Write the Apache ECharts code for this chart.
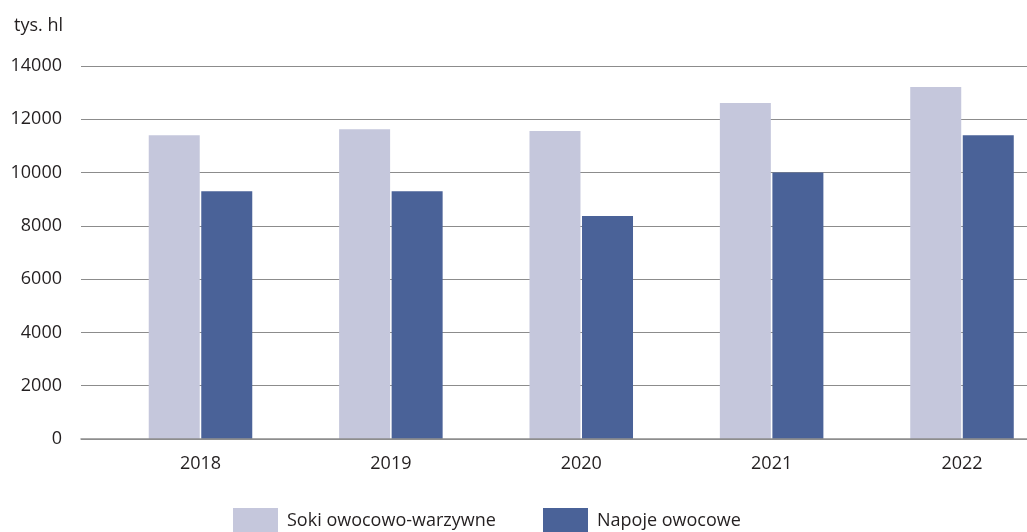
<!DOCTYPE html>
<html><head><meta charset="utf-8">
<script src="https://cdn.jsdelivr.net/npm/echarts@6/dist/echarts.min.js"></script>
<style>html,body{margin:0;padding:0;background:#fff}#c{width:1027px;height:532px}</style>
</head><body><div id="c"></div>
<script>
const categories = ['2018', '2019', '2020', '2021', '2022'];
const sokiValues = [11400, 11630, 11560, 12610, 13210];
const napojeValues = [9300, 9300, 8370, 10000, 11400];
const seriesNames = ['Soki owocowo-warzywne', 'Napoje owocowe'];
const unitLabel = 'tys. hl';
const yMin = 0, yMax = 14000, yStep = 2000;

const FONT = '"Open Sans", "Noto Sans", sans-serif';
const TXT = '#231f20';
const chart = echarts.init(document.getElementById('c'), null, {renderer: 'canvas'});
const legTxt = {fontFamily: FONT, fontSize: 18, color: TXT, lineHeight: 20, padding: [3, 0, 0, 4]};
chart.setOption({
  animation: false,
  backgroundColor: '#fff',
  textStyle: {fontFamily: FONT},
  title: {text: unitLabel, left: 9, top: 12, textStyle: {fontFamily: FONT, fontSize: 18, fontWeight: 'normal', color: TXT}},
  legend: [
    {data: [seriesNames[0]], left: 233, top: 508, padding: 0, itemWidth: 45, itemHeight: 26, icon: 'rect', textStyle: legTxt},
    {data: [seriesNames[1]], left: 543, top: 508, padding: 0, itemWidth: 45, itemHeight: 26, icon: 'rect', textStyle: legTxt}
  ],
  grid: [
    {left: 81, right: 0, top: 66, bottom: 93, containLabel: false},
    {left: 200.5, right: 65, top: 66, bottom: 93, containLabel: false}
  ],
  xAxis: [
    {type: 'category', gridIndex: 0, data: categories, axisLine: {show: true, lineStyle: {color: '#8f8f8f', width: 1.5}},
     axisTick: {show: false}, axisLabel: {show: false}, splitLine: {show: false}, z: 5},
    {type: 'category', gridIndex: 1, data: categories, boundaryGap: false, axisLine: {show: false}, axisTick: {show: false},
     axisLabel: {fontFamily: FONT, fontSize: 18, color: TXT, margin: 16}}
  ],
  yAxis: [
    {type: 'value', gridIndex: 0, min: yMin, max: yMax, interval: yStep,
     axisLine: {show: false}, axisTick: {show: false},
     axisLabel: {fontFamily: FONT, fontSize: 18, color: TXT, margin: 19, formatter: v => String(v)},
     splitLine: {lineStyle: {color: '#8c8c8c', width: 1}}},
    {type: 'value', gridIndex: 1, min: yMin, max: yMax, interval: yStep, show: false}
  ],
  series: [
    {name: seriesNames[0], type: 'bar', xAxisIndex: 1, yAxisIndex: 1, data: sokiValues, barWidth: 51, barGap: '3%',
     itemStyle: {color: '#c5c7dc'}},
    {name: seriesNames[1], type: 'bar', xAxisIndex: 1, yAxisIndex: 1, data: napojeValues, barWidth: 51, barGap: '3%',
     itemStyle: {color: '#4a6298'}}
  ]
});
</script></body></html>
